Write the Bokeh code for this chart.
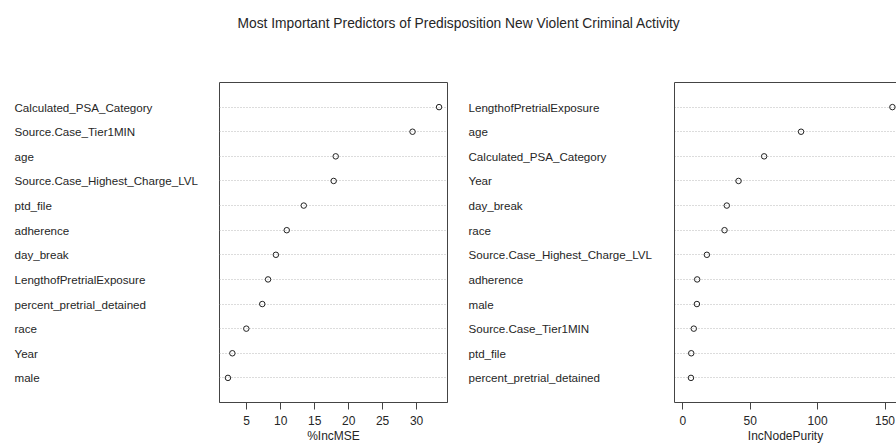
from bokeh.plotting import figure
from bokeh.models import (FactorRange, Range1d, SingleIntervalTicker, FixedTicker,
                          LinearAxis, CategoricalAxis, ColumnDataSource, Spacer)
from bokeh.layouts import column, row
from bokeh.embed import file_html
from bokeh.resources import INLINE
from bokeh.core.properties import value

title_text = "Most Important Predictors of Predisposition New Violent Criminal Activity"

# Panel 1: %IncMSE (top to bottom)
mse_features = ["Calculated_PSA_Category", "Source.Case_Tier1MIN", "age",
                "Source.Case_Highest_Charge_LVL", "ptd_file", "adherence", "day_break",
                "LengthofPretrialExposure", "percent_pretrial_detained", "race", "Year", "male"]
mse_values = [33.3, 29.4, 18.1, 17.8, 13.4, 10.9, 9.3, 8.15, 7.3, 4.95, 2.9, 2.25]
mse_label = "%IncMSE"
mse_tick_step = 5

# Panel 2: IncNodePurity (top to bottom)
pur_features = ["LengthofPretrialExposure", "age", "Calculated_PSA_Category", "Year",
                "day_break", "race", "Source.Case_Highest_Charge_LVL", "adherence", "male",
                "Source.Case_Tier1MIN", "ptd_file", "percent_pretrial_detained"]
pur_values = [155.5, 87.7, 60.3, 41.3, 32.6, 30.9, 17.8, 10.6, 10.4, 8.1, 6.2, 6.0]
pur_label = "IncNodePurity"
pur_tick_step = 50

FONT = "Liberation Sans"
TXT = "#262626"
FRAME = "#444444"
H = 390
TOP = 27
BOT = 41


def r_range(lo, hi, frac=1.0):
    ext = 0.04 * (hi - lo)
    a, b = lo - ext, hi + ext
    return a, a + (b - a) * frac


def label_fig(feats, width, xoff, yr):
    p = figure(width=width, height=H, x_range=Range1d(0, 1), y_range=yr,
               x_axis_location=None, y_axis_location=None,
               toolbar_location=None, output_backend="svg",
               min_border_left=0, min_border_right=0,
               min_border_top=TOP, min_border_bottom=BOT)
    p.outline_line_color = None
    p.grid.visible = False
    src = ColumnDataSource(dict(x=[0] * len(feats), y=feats, t=feats))
    p.text(x="x", y="y", text="t", source=src, x_offset=xoff,
           text_align="left", text_baseline="middle",
           text_font=value(FONT), text_font_size="11.6px", text_color=TXT)
    return p


def dot_fig(feats, vals, width, xr, yr, step, xlabel, border_right, outline=True):
    p = figure(width=width, height=H, x_range=Range1d(*xr), y_range=yr,
               y_axis_location=None, toolbar_location=None, output_backend="svg",
               min_border_left=0, min_border_right=border_right,
               min_border_top=TOP, min_border_bottom=BOT)
    p.outline_line_color = FRAME if outline else None
    p.outline_line_width = 1
    p.xgrid.visible = False
    p.ygrid.grid_line_color = "#b8b8b8"
    p.ygrid.grid_line_dash = "1 2"
    p.ygrid.grid_line_width = 1
    ax = p.xaxis[0]
    ax.ticker = SingleIntervalTicker(interval=step)
    ax.minor_tick_line_color = None
    ax.major_tick_in = 0
    ax.major_tick_out = 7
    ax.major_tick_line_color = FRAME
    ax.axis_line_color = FRAME
    ax.major_label_standoff = 6
    ax.major_label_text_font = FONT
    ax.major_label_text_font_size = "12px"
    ax.major_label_text_color = TXT
    ax.axis_label = xlabel
    ax.axis_label_standoff = 1
    ax.axis_label_text_font = FONT
    ax.axis_label_text_font_size = "12px"
    ax.axis_label_text_font_style = "normal"
    ax.axis_label_text_color = TXT
    src = ColumnDataSource(dict(x=vals, y=feats))
    p.scatter(x="x", y="y", source=src, marker="circle", size=5.5,
              fill_color=None, line_color="#222222", line_width=1)
    if not outline:
        top = LinearAxis(ticker=FixedTicker(ticks=[]),
                         major_tick_line_color=None, minor_tick_line_color=None,
                         major_label_standoff=0, major_tick_in=0, major_tick_out=0,
                         axis_line_color=FRAME)
        p.add_layout(top, "above")
        left = CategoricalAxis(ticker=FixedTicker(ticks=[]),
                               major_tick_line_color=None, minor_tick_line_color=None,
                               major_label_standoff=0, major_tick_in=0, major_tick_out=0,
                               axis_line_color=FRAME)
        p.add_layout(left, "left")
    return p


yr1 = FactorRange(factors=list(reversed(mse_features)), range_padding=0.5,
                  range_padding_units="absolute")
yr2 = FactorRange(factors=list(reversed(pur_features)), range_padding=0.5,
                  range_padding_units="absolute")

l1 = label_fig(mse_features, 219, 14, yr1)
p1 = dot_fig(mse_features, mse_values, 239,
             r_range(min(mse_values), max(mse_values)), yr1, mse_tick_step, mse_label, 11)
l2 = label_fig(pur_features, 216, 10, yr2)
p2 = dot_fig(pur_features, pur_values, 222,
             r_range(0, max(pur_values), 222 / 226.3), yr2, pur_tick_step, pur_label, 0,
             outline=False)

t = figure(width=896, height=42, x_axis_location=None, y_axis_location=None,
           toolbar_location=None, output_backend="svg",
           min_border_left=0, min_border_right=0, min_border_top=0, min_border_bottom=0)
t.outline_line_color = None
t.grid.visible = False
t.title.text = title_text
t.title.align = "left"
t.title.offset = 237
t.title.text_font = FONT
t.title.text_font_size = "13.8px"
t.title.text_font_style = "normal"
t.title.text_color = TXT
t.title.standoff = 0

layout = column(Spacer(width=896, height=13), t, row(l1, p1, l2, p2))
open("out.html", "w").write(file_html(layout, INLINE))
